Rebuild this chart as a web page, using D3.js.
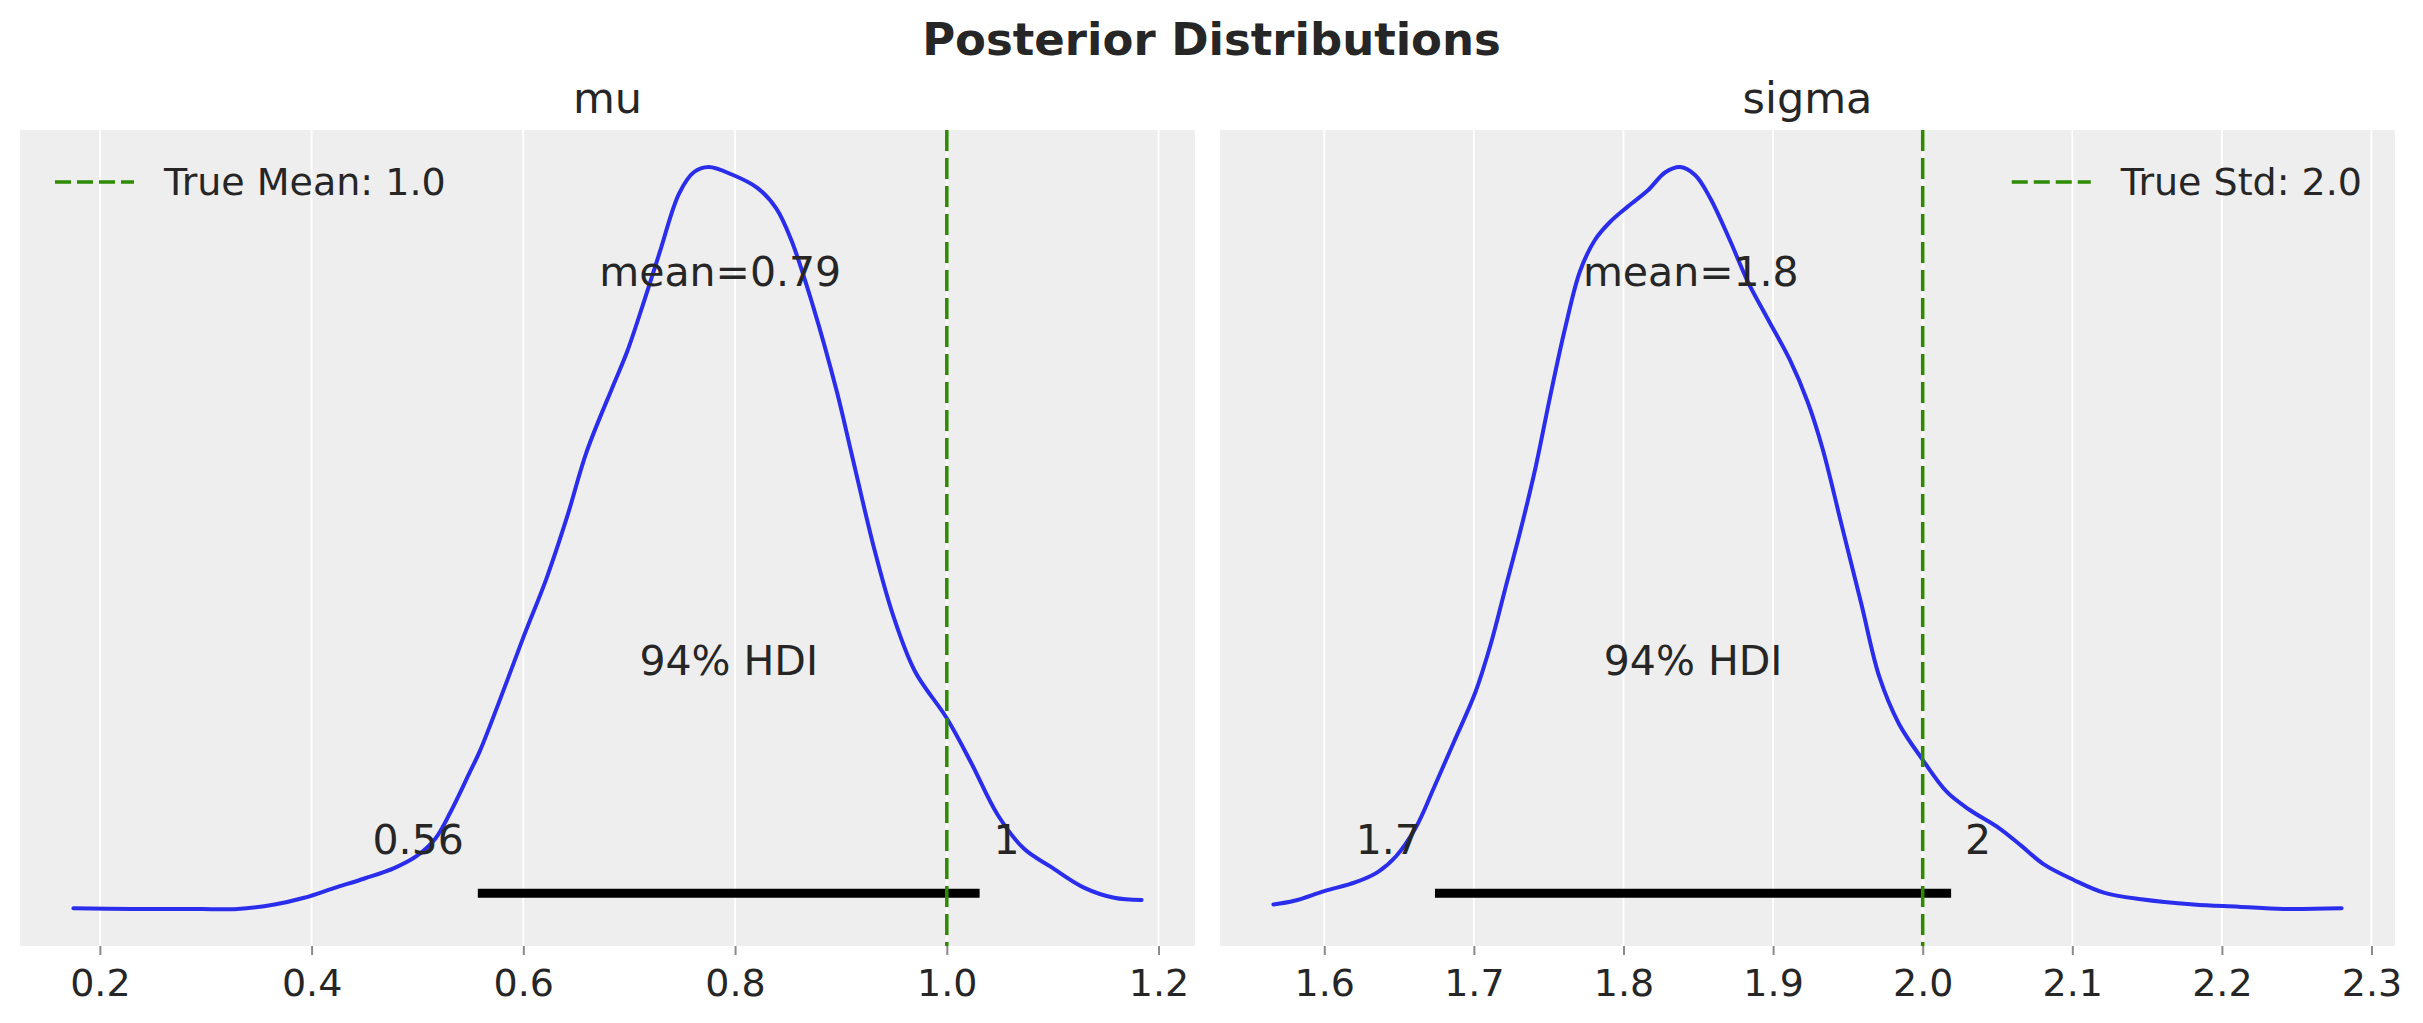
<!DOCTYPE html>
<html>
<head>
<meta charset="utf-8">
<script src="https://cdn.jsdelivr.net/npm/d3@7"></script>
<style>
  body { margin: 0; background: #ffffff; }
  svg { display: block; font-family: "DejaVu Sans", sans-serif; }
</style>
</head>
<body>
<div id="chart"></div>
<script>
// chart data
var panelNames = ["mu", "sigma"];

// KDE of mu (density scaled so the peak is 1)
var muX = [0.175, 0.230, 0.280, 0.330, 0.365, 0.393, 0.421, 0.450, 0.478, 0.499, 0.517, 0.531,
  0.549, 0.559, 0.584, 0.600, 0.622, 0.641, 0.660, 0.685, 0.698, 0.714, 0.729, 0.747, 0.761, 0.775,
  0.797, 0.821, 0.839, 0.853, 0.874, 0.896, 0.910, 0.931, 0.949, 0.970, 1.000, 1.023, 1.048,
  1.073, 1.098, 1.129, 1.158, 1.184];
var muDensity = [0.001, 0.000, 0.000, 0.000, 0.006, 0.015, 0.028, 0.041, 0.055, 0.071, 0.095, 0.130,
  0.183, 0.213, 0.305, 0.366, 0.446, 0.527, 0.617, 0.706, 0.751, 0.819, 0.886, 0.964, 0.993, 1.000,
  0.990, 0.972, 0.944, 0.902, 0.811, 0.698, 0.614, 0.488, 0.397, 0.320, 0.257, 0.197, 0.127,
  0.081, 0.057, 0.029, 0.015, 0.012];

// KDE of sigma (density scaled so the peak is 1)
var sigmaX = [1.566, 1.580, 1.600, 1.621, 1.636, 1.648, 1.661, 1.673, 1.686, 1.701, 1.711, 1.721,
  1.731, 1.741, 1.751, 1.761, 1.771, 1.781, 1.791, 1.803, 1.816, 1.828, 1.838, 1.848, 1.858,
  1.871, 1.883, 1.896, 1.911, 1.923, 1.933, 1.946, 1.959, 1.971, 1.984, 2.000, 2.016, 2.031,
  2.051, 2.066, 2.081, 2.101, 2.121, 2.146, 2.181, 2.211, 2.241, 2.280];
var sigmaDensity = [0.006, 0.011, 0.024, 0.036, 0.050, 0.071, 0.109, 0.162, 0.222, 0.292, 0.355, 0.432,
  0.509, 0.593, 0.691, 0.783, 0.860, 0.902, 0.926, 0.947, 0.968, 0.993, 1.000, 0.989, 0.958,
  0.902, 0.846, 0.797, 0.741, 0.684, 0.621, 0.516, 0.411, 0.313, 0.250, 0.201, 0.158, 0.134,
  0.109, 0.085, 0.060, 0.039, 0.022, 0.013, 0.006, 0.003, 0.000, 0.001];

var muTicks = [0.2, 0.4, 0.6, 0.8, 1.0, 1.2];
var sigmaTicks = [1.6, 1.7, 1.8, 1.9, 2.0, 2.1, 2.2, 2.3];

var pointValues = [0.786, 1.845];
var pointLabels = ["mean=0.79", "mean=1.8"];
var hdiLow = [0.557, 1.674];
var hdiHigh = [1.031, 2.019];
var hdiLowLabels = ["0.56", "1.7"];
var hdiHighLabels = ["1", "2"];
var trueValues = [1.0, 2.0];
var trueLabels = ["True Mean: 1.0", "True Std: 2.0"];

// page layout
var width = 2423, height = 1023;
var plotTop = 130, plotBottom = 946;
var plotLefts = [20, 1220], plotWidth = 1175;
var textColor = "#262626";
var kdeColor = "#2a2eec";
var trueColor = "#2e8b00";

var svg = d3.select("#chart")
    .append("svg")
    .attr("width", width)
    .attr("height", height);

svg.append("text")
    .attr("x", width / 2)
    .attr("y", 55)
    .attr("text-anchor", "middle")
    .attr("font-size", 45)
    .attr("font-weight", "bold")
    .attr("fill", textColor)
    .text("Posterior Distributions");

var allX = [muX, sigmaX];
var allDensity = [muDensity, sigmaDensity];
var allTicks = [muTicks, sigmaTicks];

panelNames.forEach(function(name, i) {
    var xs = allX[i], ds = allDensity[i];
    var left = plotLefts[i];

    // matplotlib-like 5% margins
    var xExt = d3.extent(xs), xPad = (xExt[1] - xExt[0]) * 0.05;
    var yExt = d3.extent(ds), yPad = (yExt[1] - yExt[0]) * 0.05;
    var yMax = yExt[1] + yPad;

    var x = d3.scaleLinear()
        .domain([xExt[0] - xPad, xExt[1] + xPad])
        .range([left, left + plotWidth]);
    var y = d3.scaleLinear()
        .domain([yExt[0] - yPad, yMax])
        .range([plotBottom, plotTop]);

    var g = svg.append("g");

    g.append("rect")
        .attr("x", left)
        .attr("y", plotTop)
        .attr("width", plotWidth)
        .attr("height", plotBottom - plotTop)
        .attr("fill", "#eeeeee");

    // vertical grid
    g.selectAll(".grid")
        .data(allTicks[i])
        .enter()
        .append("line")
        .attr("x1", function(d) { return x(d); })
        .attr("x2", function(d) { return x(d); })
        .attr("y1", plotTop)
        .attr("y2", plotBottom)
        .attr("stroke", "#ffffff")
        .attr("stroke-width", 1.8);

    // x axis
    var axis = d3.axisBottom(x)
        .tickValues(allTicks[i])
        .tickFormat(d3.format(".1f"))
        .tickSize(9)
        .tickPadding(14);
    var ax = g.append("g")
        .attr("transform", "translate(0," + plotBottom + ")")
        .call(axis);
    ax.select(".domain").remove();
    ax.selectAll(".tick line").attr("stroke", "#8a8a8a").attr("stroke-width", 2);
    ax.selectAll(".tick text")
        .attr("font-size", 38)
        .attr("font-family", "DejaVu Sans, sans-serif")
        .attr("fill", textColor);

    // subplot title
    g.append("text")
        .attr("x", left + plotWidth / 2)
        .attr("y", 113)
        .attr("text-anchor", "middle")
        .attr("font-size", 43)
        .attr("fill", textColor)
        .text(name);

    // KDE curve
    var line = d3.line()
        .x(function(d) { return x(d[0]); })
        .y(function(d) { return y(d[1]); })
        .curve(d3.curveCatmullRom.alpha(0.5));

    g.append("path")
        .datum(d3.zip(xs, ds))
        .attr("d", line)
        .attr("fill", "none")
        .attr("stroke", kdeColor)
        .attr("stroke-width", 4)
        .attr("stroke-linecap", "round");

    // HDI bar
    g.append("line")
        .attr("x1", x(hdiLow[i]))
        .attr("x2", x(hdiHigh[i]))
        .attr("y1", y(yMax * 0.02))
        .attr("y2", y(yMax * 0.02))
        .attr("stroke", "#000000")
        .attr("stroke-width", 9);

    g.append("text")
        .attr("x", x(hdiLow[i]) - 14)
        .attr("y", y(yMax * 0.07))
        .attr("text-anchor", "end")
        .attr("font-size", 41)
        .attr("fill", textColor)
        .text(hdiLowLabels[i]);

    g.append("text")
        .attr("x", x(hdiHigh[i]) + 14)
        .attr("y", y(yMax * 0.07))
        .attr("text-anchor", "start")
        .attr("font-size", 41)
        .attr("fill", textColor)
        .text(hdiHighLabels[i]);

    g.append("text")
        .attr("x", x((hdiLow[i] + hdiHigh[i]) / 2))
        .attr("y", y(yMax * 0.3))
        .attr("text-anchor", "middle")
        .attr("font-size", 41)
        .attr("fill", textColor)
        .text("94% HDI");

    g.append("text")
        .attr("x", x(pointValues[i]))
        .attr("y", y(yMax * 0.8))
        .attr("text-anchor", "middle")
        .attr("font-size", 41)
        .attr("fill", textColor)
        .text(pointLabels[i]);

    // true value line
    g.append("line")
        .attr("x1", x(trueValues[i]))
        .attr("x2", x(trueValues[i]))
        .attr("y1", plotTop)
        .attr("y2", plotBottom)
        .attr("stroke", trueColor)
        .attr("stroke-width", 3.5)
        .attr("stroke-dasharray", "21,7");

    // legend (left panel: upper left, right panel: upper right)
    var legendY = 182;
    var legendText = g.append("text")
        .attr("y", legendY)
        .attr("dy", "0.35em")
        .attr("font-size", 38)
        .attr("fill", textColor)
        .text(trueLabels[i]);
    var textStart;
    if (i === 0) {
        textStart = left + 144;
    } else {
        textStart = left + plotWidth - 33 - legendText.node().getComputedTextLength();
    }
    legendText.attr("x", textStart);
    g.append("line")
        .attr("x1", textStart - 109)
        .attr("x2", textStart - 30)
        .attr("y1", legendY)
        .attr("y2", legendY)
        .attr("stroke", trueColor)
        .attr("stroke-width", 3.5)
        .attr("stroke-dasharray", "16,6");
});
</script>
</body>
</html>
